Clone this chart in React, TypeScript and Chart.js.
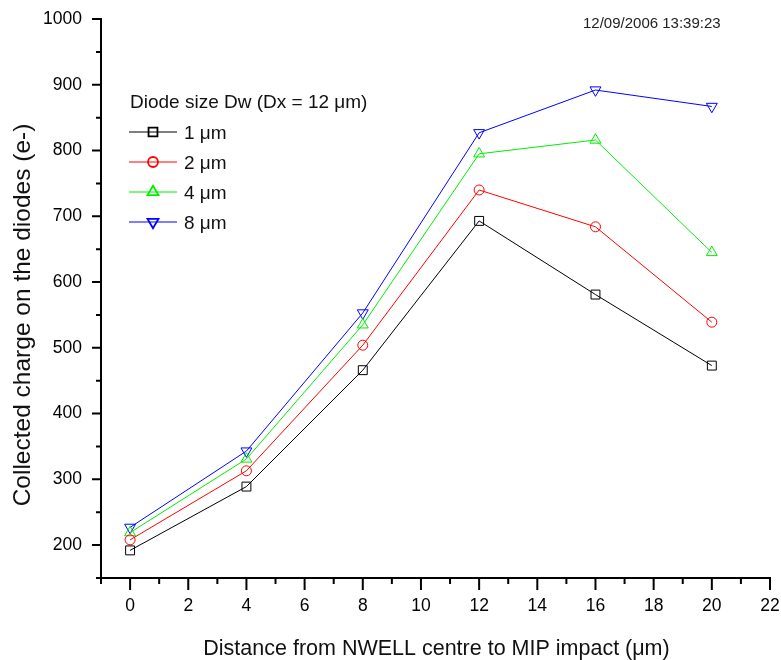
import React, { useEffect, useRef } from 'react';
import { Chart, registerables } from 'chart.js';

Chart.register(...registerables);

// ---- Data ----
const xValues = [0, 4, 8, 12, 16, 20];
const seriesLabels = ['1 μm', '2 μm', '4 μm', '8 μm'];
const dw1 = [192, 289, 466, 693, 581, 473];
const dw2 = [208, 313, 504, 740, 684, 539];
const dw4 = [219, 331, 535, 795, 816, 645];
const dw8 = [227, 343, 553, 827, 892, 867];
const xTickLabels = [0, 2, 4, 6, 8, 10, 12, 14, 16, 18, 20, 22];
const yTickLabels = [200, 300, 400, 500, 600, 700, 800, 900, 1000];
const legendTitle = 'Diode size Dw (Dx = 12 μm)';
const xTitle = 'Distance from NWELL centre to MIP impact (μm)';
const yTitle = 'Collected charge on the diodes (e-)';
const timestamp = '12/09/2006 13:39:23';

const FONT = '"Liberation Sans", Arial, sans-serif';

const colors = ['#000000', '#ff0000', '#00ee00', '#0000ff'];
const styles: any[] = [
  { pointStyle: 'rect', radius: 6.3, rotation: 0 },
  { pointStyle: 'circle', radius: 5, rotation: 0 },
  { pointStyle: 'triangle', radius: 6.3, rotation: 0 },
  { pointStyle: 'triangle', radius: 6.3, rotation: 180 },
];
const seriesValues = [dw1, dw2, dw4, dw8];

function drawMarker(ctx: CanvasRenderingContext2D, style: string, rotation: number, x: number, y: number, r: number) {
  ctx.beginPath();
  if (style === 'rect') {
    const s = Math.SQRT1_2 * r;
    ctx.rect(x - s, y - s, 2 * s, 2 * s);
  } else if (style === 'circle') {
    ctx.arc(x, y, r, 0, Math.PI * 2);
  } else {
    let rad = (rotation * Math.PI) / 180;
    ctx.moveTo(x + Math.sin(rad) * r, y - Math.cos(rad) * r);
    rad += (2 * Math.PI) / 3;
    ctx.lineTo(x + Math.sin(rad) * r, y - Math.cos(rad) * r);
    rad += (2 * Math.PI) / 3;
    ctx.lineTo(x + Math.sin(rad) * r, y - Math.cos(rad) * r);
    ctx.closePath();
  }
  ctx.stroke();
}

const decorPlugin = {
  id: 'decor',
  afterDraw(chart: any) {
    const { ctx, chartArea, scales } = chart;
    const xs = scales.x;
    const ys = scales.y;
    ctx.save();
    // tick marks (major / minor)
    ctx.strokeStyle = '#000';
    ctx.lineWidth = 2;
    ctx.beginPath();
    xs.ticks.forEach((t: any) => {
      const px = xs.getPixelForValue(t.value);
      const len = xTickLabels.includes(t.value) ? 12 : 6;
      ctx.moveTo(px, chartArea.bottom);
      ctx.lineTo(px, chartArea.bottom + len);
    });
    ys.ticks.forEach((t: any) => {
      const py = ys.getPixelForValue(t.value);
      const len = yTickLabels.includes(t.value) ? 9 : 5;
      ctx.moveTo(chartArea.left - len, py);
      ctx.lineTo(chartArea.left, py);
    });
    ctx.stroke();

    // axis titles
    ctx.fillStyle = '#111';
    ctx.font = `21.5px ${FONT}`;
    ctx.textAlign = 'center';
    ctx.textBaseline = 'alphabetic';
    ctx.fillText(xTitle, (chartArea.left + chartArea.right) / 2 + 1, 655);

    ctx.save();
    ctx.translate(30, 315);
    ctx.rotate(-Math.PI / 2);
    ctx.font = `24.5px ${FONT}`;
    ctx.fillText(yTitle, 0, 0);
    ctx.restore();

    // timestamp
    ctx.font = `15px ${FONT}`;
    ctx.textAlign = 'left';
    ctx.fillStyle = '#222';
    ctx.fillText(timestamp, 583, 28);

    // legend
    ctx.fillStyle = '#111';
    ctx.font = `19px ${FONT}`;
    ctx.fillText(legendTitle, 130, 108);
    chart.data.datasets.forEach((ds: any, i: number) => {
      const cy = 132 + i * 30;
      ctx.strokeStyle = ds.borderColor;
      ctx.lineWidth = 1;
      ctx.beginPath();
      ctx.moveTo(129, cy);
      ctx.lineTo(177, cy);
      ctx.stroke();
      ctx.lineWidth = 1.8;
      drawMarker(ctx, ds.pointStyle, ds.pointRotation, 153, cy, ds.pointRadius);
      ctx.fillStyle = '#111';
      ctx.fillText(ds.label, 184, cy + 7);
    });
    ctx.restore();
  },
};

export default function App() {
  const ref = useRef<HTMLCanvasElement | null>(null);

  useEffect(() => {
    if (!ref.current) return;
    const datasets = seriesValues.map((vals, i) => ({
      label: seriesLabels[i],
      data: vals.map((v, j) => ({ x: xValues[j], y: v })),
      borderColor: colors[i],
      backgroundColor: colors[i],
      borderWidth: 1,
      pointStyle: styles[i].pointStyle,
      pointRadius: styles[i].radius,
      pointRotation: styles[i].rotation,
      pointBorderWidth: 1,
      pointBorderColor: colors[i],
      pointBackgroundColor: 'rgba(0,0,0,0)',
      tension: 0,
      fill: false,
    }));

    const chart = new Chart(ref.current, {
      type: 'line',
      data: { datasets },
      options: {
        animation: false,
        responsive: false,
        devicePixelRatio: 1,
        layout: { padding: { top: 19, right: 11, left: 0, bottom: 0 } },
        plugins: {
          legend: { display: false },
          tooltip: { enabled: false },
          title: { display: false },
        },
        scales: {
          x: {
            type: 'linear',
            min: -1,
            max: 22,
            grid: { display: false },
            border: { display: true, color: '#000', width: 2 },
            ticks: {
              stepSize: 1,
              autoSkip: false,
              maxRotation: 0,
              padding: 10,
              color: '#000',
              font: { family: FONT, size: 17.5 },
              callback: (v: any) => (xTickLabels.includes(Number(v)) ? String(v) : ''),
            },
            afterFit: (scale: any) => {
              scale.height = 82;
              scale.paddingLeft = 0;
              scale.paddingRight = 0;
            },
          },
          y: {
            type: 'linear',
            min: 150,
            max: 1000,
            grid: { display: false },
            border: { display: true, color: '#000', width: 2 },
            ticks: {
              stepSize: 50,
              autoSkip: false,
              padding: 11,
              color: '#000',
              font: { family: FONT, size: 17.5 },
              callback: (v: any) => (yTickLabels.includes(Number(v)) ? String(v) : ''),
            },
            afterFit: (scale: any) => {
              scale.width = 101;
              scale.paddingTop = 0;
              scale.paddingBottom = 0;
            },
          },
        },
      },
      plugins: [decorPlugin],
    } as any);
    return () => chart.destroy();
  }, []);

  return (
    <div style={{ position: 'absolute', left: 0, top: 0, width: 781, height: 660, background: '#fff' }}>
      <canvas ref={ref} width={781} height={660} style={{ display: 'block' }} />
    </div>
  );
}
